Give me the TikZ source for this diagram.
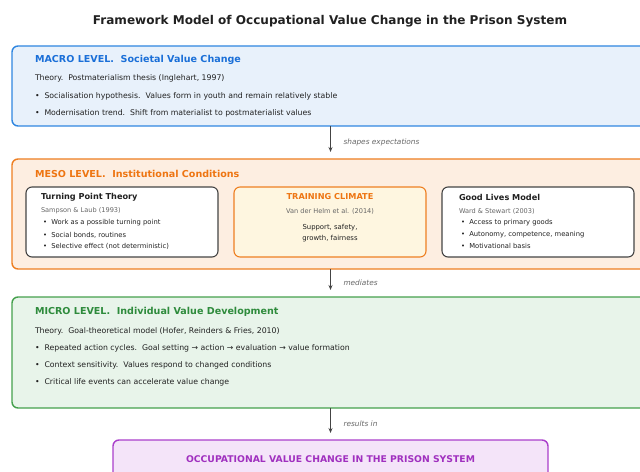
\documentclass[tikz,border=0pt]{standalone}
\usepackage{fontspec}
\setmainfont{DejaVu Sans}
\usetikzlibrary{positioning,arrows.meta}

\definecolor{macroline}{HTML}{2F86E0}
\definecolor{macrofill}{HTML}{E8F1FB}
\definecolor{macrotext}{HTML}{1A6FD8}
\definecolor{mesoline}{HTML}{EE7F22}
\definecolor{mesofill}{HTML}{FDEEE1}
\definecolor{mesotext}{HTML}{EE7512}
\definecolor{climatefill}{HTML}{FEF6E0}
\definecolor{microline}{HTML}{45A04D}
\definecolor{microfill}{HTML}{E8F4EA}
\definecolor{microtext}{HTML}{2E8B3C}
\definecolor{outline}{HTML}{AA3FCB}
\definecolor{outfill}{HTML}{F4E4F9}
\definecolor{outtext}{HTML}{A030BF}
\definecolor{citegray}{HTML}{666666}
\definecolor{inkgray}{HTML}{444444}

\newcommand{\fsize}[1]{\fontsize{#1}{1.2\dimexpr#1pt\relax}\selectfont}

\begin{document}
\begin{tikzpicture}[x=1bp, y=-1bp,
    every node/.style = { inner sep = 0pt, outer sep = 0pt, text = black!87 },
    levelbox/.style = { draw, line width = 1.4bp, rounded corners = 6bp,
                        anchor = north west, minimum width = 700bp },
    theorybox/.style = { draw = inkgray, fill = white, line width = 1.1bp,
                         rounded corners = 6bp, minimum width = 192bp, minimum height = 70bp },
    heading/.style = { anchor = west, font = \fsize{9.6}\bfseries },
    body/.style = { anchor = west, font = \fsize{7.8} },
    boxtitle/.style = { anchor = west, font = \fsize{8.2}\bfseries },
    cite/.style = { anchor = west, font = \fsize{6.6}, text = citegray },
    item/.style = { anchor = west, font = \fsize{6.8} },
    note/.style = { anchor = west, font = \fsize{7.4}\itshape, text = citegray },
    flow/.style = { draw = inkgray, line width = 1.2bp,
                    -{Stealth[length = 5bp, width = 4bp]}, shorten > = 7bp }]
    \useasboundingbox (0,0) rectangle (640,472);
    \clip (0,0) rectangle (640,472);

    \node [font = \fsize{12.1}\bfseries] (title) at (330,21)
        {Framework Model of Occupational Value Change in the Prison System};

    % the three levels
    \node [levelbox, draw = macroline, fill = macrofill, minimum height = 80bp] (macro) at (12,46) {};
    \node [levelbox, draw = mesoline, fill = mesofill, minimum height = 110bp] (meso) at (12,159) {};
    \node [levelbox, draw = microline, fill = microfill, minimum height = 111bp] (micro) at (12,297) {};
    \node [levelbox, draw = outline, fill = outfill, minimum width = 435bp,
           minimum height = 60bp] (outcome) at (113,440) {};

    % macro
    \node [heading, text = macrotext] at (35,60) {MACRO LEVEL.\ \ Societal Value Change};
    \node [body] at (35,78) {Theory.\ \ Postmaterialism thesis (Inglehart, 1997)};
    \node [body] at (35,96) {•\ \ Socialisation hypothesis.\ \ Values form in youth and remain relatively stable};
    \node [body] at (35,113) {•\ \ Modernisation trend.\ \ Shift from materialist to postmaterialist values};

    % meso with its three theories
    \node [heading, text = mesotext] at (35,174) {MESO LEVEL.\ \ Institutional Conditions};
    \node [theorybox, anchor = north west] (tpt) at (26,187) {};
    \node [theorybox, right = 16bp of tpt, draw = mesoline, fill = climatefill] (climate) {};
    \node [theorybox, right = 16bp of climate] (glm) {};

    \node [boxtitle] at (41,197) {Turning Point Theory};
    \node [cite] at (41,211) {Sampson \& Laub (1993)};
    \node [item] at (43,223) {•\ \ Work as a possible turning point};
    \node [item] at (43,235) {•\ \ Social bonds, routines};
    \node [item] at (43,246) {•\ \ Selective effect (not deterministic)};

    \node [boxtitle, anchor = center, text = mesotext] at (climate.center |- 0,197) {TRAINING CLIMATE};
    \node [cite, anchor = center] at (climate.center |- 0,211) {Van der Helm et al. (2014)};
    \node [item, anchor = center, align = center, font = \fontsize{6.9}{11.5}\selectfont]
        at (climate.center |- 0,233) {Support, safety,\\growth, fairness};

    \node [boxtitle] at (459,197) {Good Lives Model};
    \node [cite] at (459,211) {Ward \& Stewart (2003)};
    \node [item] at (461,223) {•\ \ Access to primary goods};
    \node [item] at (461,235) {•\ \ Autonomy, competence, meaning};
    \node [item] at (461,246) {•\ \ Motivational basis};

    % micro
    \node [heading, text = microtext] at (35,312) {MICRO LEVEL.\ \ Individual Value Development};
    \node [body] at (35,331) {Theory.\ \ Goal-theoretical model (Hofer, Reinders \& Fries, 2010)};
    \node [body] at (35,348) {•\ \ Repeated action cycles.\ \ Goal setting → action → evaluation → value formation};
    \node [body] at (35,365) {•\ \ Context sensitivity.\ \ Values respond to changed conditions};
    \node [body] at (35,382) {•\ \ Critical life events can accelerate value change};

    % outcome
    \node [font = \fsize{9.3}\bfseries, text = outtext] at (outcome.center |- 0,459)
        {OCCUPATIONAL VALUE CHANGE IN THE PRISON SYSTEM};

    % links between the levels
    \draw [flow] (macro.south -| outcome.north) -- (meso.north -| outcome.north)
        node [note, midway, right = 13bp] {shapes expectations};
    \draw [flow] (meso.south -| outcome.north) -- (micro.north -| outcome.north)
        node [note, midway, right = 13bp] {mediates};
    \draw [flow] (micro.south -| outcome.north) -- (outcome.north)
        node [note, midway, right = 13bp] {results in};
\end{tikzpicture}
\end{document}
